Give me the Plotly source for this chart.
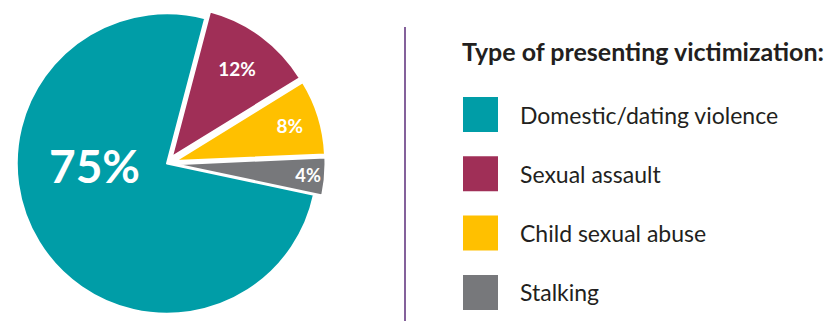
import plotly.graph_objects as go

categories = ["Domestic/dating violence", "Sexual assault", "Child sexual abuse", "Stalking"]
values = [75, 12, 8, 4]
colors = ["#009DA7", "#A02F57", "#FFC000", "#77787B"]
pulls = [0, 0.055, 0.055, 0.055]
legend_title = "Type of presenting victimization:"

W, H = 830, 322
TOP = 5
slice_text = [""] + [f"{v}%" for v in values[1:]]


def py(y):
    # pixel y (from top of page) -> paper coordinate of the plot area
    return 1 - (y - TOP) / (H - TOP)


fig = go.Figure()
fig.add_trace(go.Pie(
    labels=categories,
    values=values,
    sort=False,
    direction="clockwise",
    rotation=102,
    pull=pulls,
    marker=dict(colors=colors, line=dict(color="white", width=2)),
    text=slice_text,
    textinfo="text",
    textposition="inside",
    insidetextorientation="horizontal",
    textfont=dict(family="Lato", color="white", size=19, weight="bold"),
    domain=dict(x=[0, 334 / W], y=[0, 1]),
    showlegend=False,
    hoverinfo="label+value",
))

# label of the large slice
fig.add_annotation(xref="paper", yref="paper", x=94 / W, y=py(166),
                   text=f"<b>{values[0]}%</b>", showarrow=False,
                   xanchor="center", yanchor="middle",
                   font=dict(family="Lato", size=46, color="white"))

# custom legend
x0, x1 = 463, 498
ytop0, step, sq = 97, 59.3, 35
for i, (cat, col) in enumerate(zip(categories, colors)):
    yt = ytop0 + i * step
    fig.add_shape(type="rect", xref="paper", yref="paper",
                  x0=x0 / W, x1=x1 / W, y0=py(yt + sq), y1=py(yt),
                  fillcolor=col, line=dict(width=0))
    fig.add_annotation(xref="paper", yref="paper", x=518 / W, y=py(yt + sq / 2),
                       text=cat, showarrow=False, xanchor="left", yanchor="middle",
                       font=dict(family="Lato", size=23, color="#231F20"))

fig.add_annotation(xref="paper", yref="paper", x=460 / W, y=py(51),
                   text="<b>" + legend_title + "</b>", showarrow=False,
                   xanchor="left", yanchor="middle",
                   font=dict(family="Lato", size=25, color="#231F20"))

fig.add_shape(type="line", xref="paper", yref="paper",
              x0=405 / W, x1=405 / W, y0=py(27), y1=py(321),
              line=dict(color="#5B2C7A", width=1.5))

fig.update_layout(width=W, height=H, margin=dict(l=0, r=0, t=TOP, b=0),
                  paper_bgcolor="white", plot_bgcolor="white")
fig.write_html("out.html")
